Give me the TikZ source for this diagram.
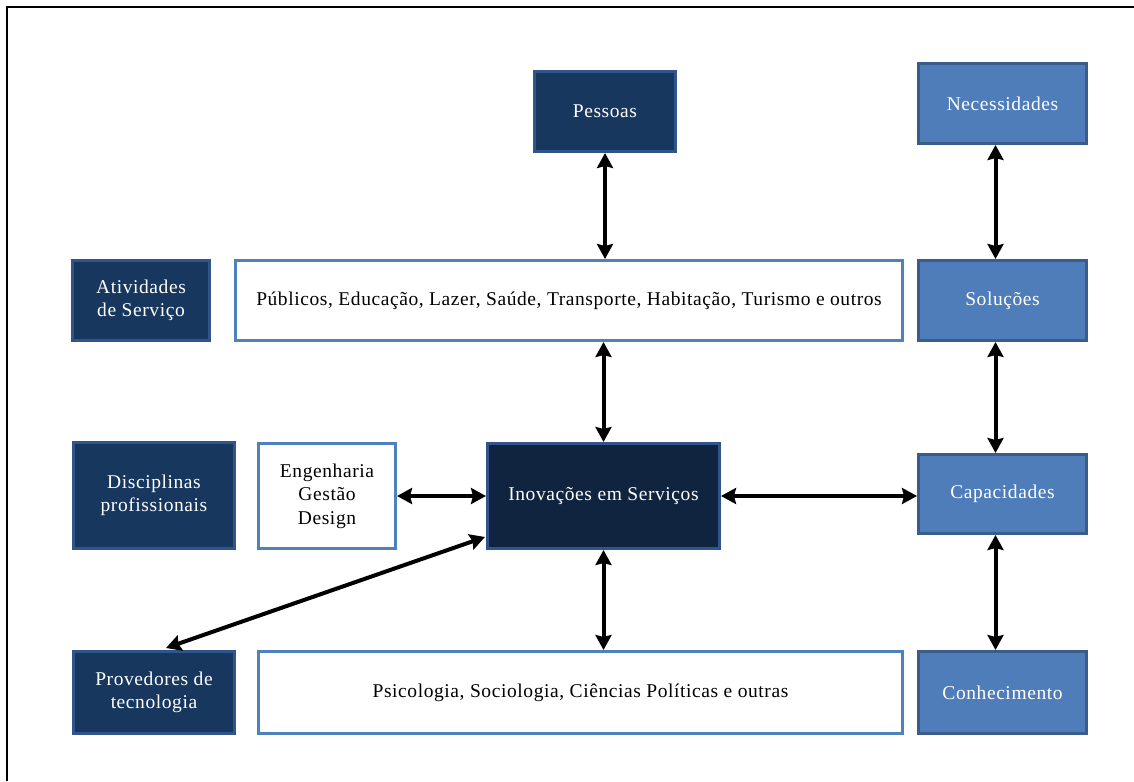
\documentclass[tikz,border=0pt]{standalone}
\usepackage{fontspec}
\setmainfont[LetterSpace=3]{Liberation Serif}
\usetikzlibrary{arrows.meta}
\definecolor{navy}{HTML}{17375E}
\definecolor{navydeep}{HTML}{10233F}
\definecolor{navyedge}{HTML}{31558A}
\definecolor{midblue}{HTML}{4F7DBA}
\definecolor{midedge}{HTML}{385D8A}
\definecolor{lightedge}{HTML}{4F81BD}
\begin{document}
\begin{tikzpicture}[x=1pt,y=-1pt,
  base/.style={rectangle, line width=3pt, align=center, inner sep=2pt,
    font=\fontsize{19.5}{23.5}\selectfont},
  dark/.style={base, fill=navy, draw=navyedge, text=white},
  deep/.style={base, fill=navydeep, draw=navyedge, text=white},
  mid/.style={base, fill=midblue, draw=midedge, text=white},
  plain/.style={base, fill=white, draw=lightedge, text=black},
  arr/.style={line width=4pt, {Stealth[length=15pt,width=16pt,inset=2pt]}-{Stealth[length=15pt,width=16pt,inset=2pt]}}
]
\useasboundingbox (0,0) rectangle (1134,781);
\draw[line width=2.5pt] (7,781) -- (7,7) -- (1134,7);

\node[dark, minimum width=141pt, minimum height=80pt] (pes) at (605,111.5) {Pessoas};
\node[mid, minimum width=168pt, minimum height=80pt] (nec) at (1002.5,103.5) {Necessidades};
\node[dark, minimum width=137pt, minimum height=80pt] (ati) at (141,300.5) {Atividades\\de Serviço};
\node[plain, minimum width=667pt, minimum height=80pt] (pub) at (569,300.5) {Públicos, Educação, Lazer, Saúde, Transporte, Habitação, Turismo e outros};
\node[mid, minimum width=168pt, minimum height=80pt] (sol) at (1002.5,300.5) {Soluções};
\node[dark, minimum width=161pt, minimum height=106pt] (dis) at (154,495.5) {Disciplinas\\profissionais};
\node[plain, minimum width=137pt, minimum height=105pt] (eng) at (327,496) {Engenharia\\Gestão\\Design};
\node[deep, minimum width=232pt, minimum height=105pt] (ino) at (603.5,496) {Inovações em Serviços};
\node[mid, minimum width=168pt, minimum height=79pt] (cap) at (1002.5,494) {Capacidades};
\node[dark, minimum width=161pt, minimum height=82pt] (pro) at (154,692.5) {Provedores de\\tecnologia};
\node[plain, minimum width=644pt, minimum height=82pt] (psi) at (580.5,692.5) {Psicologia, Sociologia, Ciências Políticas e outras};
\node[mid, minimum width=168pt, minimum height=82pt] (con) at (1002.5,692.5) {Conhecimento};

\draw[arr] (pes.south) -- (pes.south |- pub.north);
\draw[arr] (ino.north) -- (ino.north |- pub.south);
\draw[arr] (ino.south) -- (ino.south |- psi.north);
\draw[arr] (eng.east) -- (eng.east -| ino.west);
\draw[arr] (ino.east) -- (ino.east -| cap.west);
\draw[arr] ([xshift=-7pt]nec.south) -- ([xshift=-7pt]sol.north);
\draw[arr] ([xshift=-7pt]sol.south) -- ([xshift=-7pt]cap.north);
\draw[arr] ([xshift=-7pt]cap.south) -- ([xshift=-7pt]con.north);
\draw[arr] ([xshift=-1pt,yshift=13pt]ino.south west) -- ([xshift=12pt,yshift=2pt]pro.north);
\end{tikzpicture}
\end{document}
